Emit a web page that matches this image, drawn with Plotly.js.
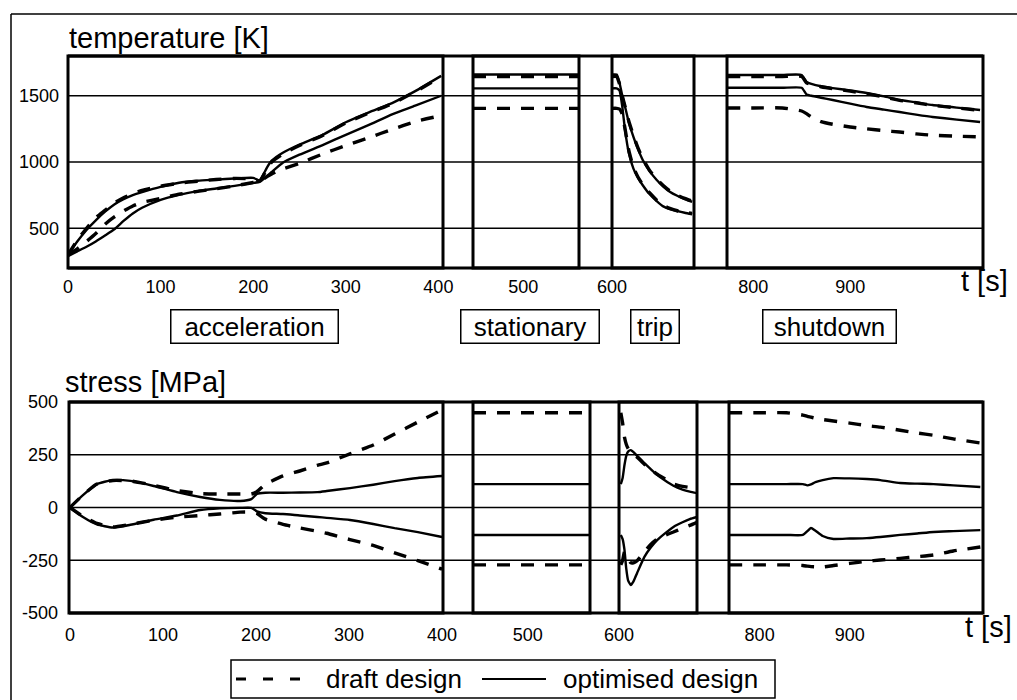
<!DOCTYPE html>
<html>
<head>
<meta charset="utf-8">
<script src="https://cdn.plot.ly/plotly-3.0.1.min.js"></script>
<style>html,body{margin:0;padding:0;background:#fff;}#chart{width:1017px;height:700px;}</style>
</head>
<body>
<div id="chart"></div>
<script>
// ---------------- DATA ----------------
// Temperature [K] - acceleration phase
const accTempT        = [0,10,20,30,40,50,60,70,80,100,120,140,160,180,200,207,215,220,232,250,275,300,325,350,375,403];
const accTempOptHot   = [300,400,487,560,625,680,720,750,772,812,843,858,867,876,880,862,960,1010,1070,1132,1205,1300,1375,1445,1535,1650];
const accTempOptCold  = [290,325,360,400,445,492,555,612,655,715,752,780,800,820,842,850,895,925,995,1055,1128,1205,1280,1360,1425,1500];
const accTempDraftHot = [300,410,500,580,635,690,730,760,785,818,840,855,868,876,872,858,950,1000,1060,1125,1200,1295,1370,1440,1530,1645];
const accTempDraftCold= [300,345,400,460,530,585,630,668,695,725,757,778,798,820,845,855,890,910,948,990,1060,1124,1184,1246,1305,1350];
// Temperature - stationary phase
const statTempT        = [446,560];
const statTempOptHot   = [1660,1660];
const statTempOptCold  = [1556,1556];
const statTempDraftHot = [1645,1645];
const statTempDraftCold= [1405,1405];
// Temperature - trip phase
const tripTempT        = [600,605,608,611,614,618,623,628,633,640,648,655,662,670,678,686];
const tripTempOptHot   = [1660,1660,1600,1500,1417,1300,1190,1095,1015,935,864,815,776,745,720,700];
const tripTempOptCold  = [1556,1556,1540,1420,1240,1070,950,880,825,760,705,665,645,630,617,606];
const tripTempDraftHot = [1645,1645,1590,1500,1420,1310,1200,1105,1025,940,870,822,782,750,725,705];
const tripTempDraftCold= [1405,1405,1400,1360,1250,1090,960,885,830,770,712,672,650,632,620,612];
// Temperature - shutdown phase
const shutTempT        = [773,800,830,850,855,860,870,882,900,917,935,951,968,985,1010,1034];
const shutTempOptHot   = [1657,1657,1657,1657,1604,1590,1572,1558,1540,1521,1495,1468,1450,1430,1410,1392];
const shutTempOptCold  = [1560,1560,1560,1560,1510,1500,1485,1468,1440,1415,1395,1377,1358,1340,1320,1302];
const shutTempDraftHot = [1645,1645,1645,1645,1598,1585,1568,1553,1535,1516,1490,1465,1447,1428,1408,1390];
const shutTempDraftCold= [1408,1408,1408,1385,1365,1340,1305,1285,1264,1250,1237,1226,1212,1202,1195,1189];

// Stress [MPa] - acceleration phase
const accStressT        = [0,14,29,46,65,90,115,140,161,183,195,201,210,229,247,266,276,301,326,349,374,400];
const accStressOptUp    = [0,59,111,130,126,102,73,50,36,31,40,64,70,70,71,73,78,92,108,125,140,149];
const accStressOptLow   = [0,-45,-80,-95,-82,-58,-38,-12,-4,-2,-2,-18,-27,-31,-38,-45,-49,-59,-78,-98,-117,-140];
const accStressDraftUp  = [0,59,111,128,126,105,80,66,64,64,64,75,110,150,173,200,211,254,296,348,405,462];
const accStressDraftLow = [0,-42,-75,-92,-80,-60,-46,-38,-31,-22,-22,-28,-55,-80,-97,-113,-122,-152,-180,-215,-252,-292];
// Stress - stationary phase
const statStressT        = [441,567];
const statStressOptUp    = [111,111];
const statStressOptLow   = [-130,-130];
const statStressDraftUp  = [449,449];
const statStressDraftLow = [-272,-272];
// Stress - trip phase
const tripStressT        = [602,604,606,608,610,613,616,620,628,635,642,650,660,670,678,686];
const tripStressOptUp    = [111,140,200,245,265,272,262,245,210,182,155,130,103,85,75,68];
const tripStressOptLow   = [-130,-150,-200,-290,-345,-367,-350,-310,-234,-190,-155,-125,-92,-70,-55,-45];
const tripStressDraftUp  = [449,400,334,300,280,262,252,238,205,180,158,138,112,100,95,92];
const tripStressDraftLow = [-272,-250,-212,-225,-245,-262,-262,-252,-210,-175,-150,-133,-116,-98,-85,-70];
// Stress - shutdown phase
const shutStressT        = [766,800,830,848,853,857,862,870,882,900,919,934,956,975,993,1015,1045];
const shutStressOptUp    = [111,111,111,111,105,110,120,130,139,138,135,130,116,113,111,105,97];
const shutStressOptLow   = [-130,-130,-130,-130,-112,-97,-110,-135,-149,-147,-145,-140,-130,-123,-116,-112,-107];
const shutStressDraftUp  = [449,449,449,438,432,428,423,417,410,400,388,381,366,353,342,325,306];
const shutStressDraftLow = [-272,-272,-272,-275,-278,-280,-281,-282,-275,-265,-255,-249,-241,-233,-225,-206,-187];

// Tick labels
const phaseTicks   = [[0,100,200,300,400],[500],[600],[800,900]];
const tempTicks    = [500,1000,1500];
const stressTicks  = [-500,-250,0,250,500];
const phaseNames   = ['acceleration','stationary','trip','shutdown'];
const seriesNames  = ['draft design','optimised design'];

// ---------------- LAYOUT HELPERS ----------------
const W = 1017, H = 700;
const X = v => v / W;
const Y = v => 1 - v / H;
const FONT = 'Liberation Sans, Arial, Helvetica, sans-serif';

const tempDomPx   = [[68,443],[473,579],[612,694],[727,983]];
const stressDomPx = [[69,443],[473,590],[619,697],[729,983]];
const tempRanges   = [[0,405],[446,560],[600,688],[773,1037]];
const stressRanges = [[-1,401],[441,567],[600,686],[766,1048]];

const tempPhases = [
  {t: accTempT,  draft:[accTempDraftHot,accTempDraftCold],   opt:[accTempOptHot,accTempOptCold]},
  {t: statTempT, draft:[statTempDraftHot,statTempDraftCold], opt:[statTempOptHot,statTempOptCold]},
  {t: tripTempT, draft:[tripTempDraftHot,tripTempDraftCold], opt:[tripTempOptHot,tripTempOptCold]},
  {t: shutTempT, draft:[shutTempDraftHot,shutTempDraftCold], opt:[shutTempOptHot,shutTempOptCold]}
];
const stressPhases = [
  {t: accStressT,  draft:[accStressDraftUp,accStressDraftLow],   opt:[accStressOptUp,accStressOptLow]},
  {t: statStressT, draft:[statStressDraftUp,statStressDraftLow], opt:[statStressOptUp,statStressOptLow]},
  {t: tripStressT, draft:[tripStressDraftUp,tripStressDraftLow], opt:[tripStressOptUp,tripStressOptLow]},
  {t: shutStressT, draft:[shutStressDraftUp,shutStressDraftLow], opt:[shutStressOptUp,shutStressOptLow]}
];

const draftLine = {color:'black', width:3.4, dash:'13px,11px', shape:'spline', smoothing:0.5};
const optLine   = {color:'black', width:2.4, shape:'spline', smoothing:0.5};

const traces = [];
function addPhases(phases, axOffset, yId){
  phases.forEach((p, k) => {
    const xId = (axOffset + k === 1) ? 'x' : 'x' + (axOffset + k);
    p.draft.forEach(arr => traces.push({x:p.t, y:arr, xaxis:xId, yaxis:yId, mode:'lines',
      name:seriesNames[0], line:draftLine, hoverinfo:'skip', showlegend:false}));
  });
  phases.forEach((p, k) => {
    const xId = (axOffset + k === 1) ? 'x' : 'x' + (axOffset + k);
    p.opt.forEach(arr => traces.push({x:p.t, y:arr, xaxis:xId, yaxis:yId, mode:'lines',
      name:seriesNames[1], line:optLine, hoverinfo:'skip', showlegend:false}));
  });
}
addPhases(tempPhases, 1, 'y');
addPhases(stressPhases, 5, 'y2');

const tickFont = {family:FONT, size:18, color:'black'};
const layout = {
  width:W, height:H, margin:{l:0,r:0,t:0,b:0},
  paper_bgcolor:'white', plot_bgcolor:'rgba(0,0,0,0)',
  showlegend:false, font:{family:FONT, color:'black'},
  shapes:[], annotations:[]
};
function xAxisDef(dom, rng, ticks, anchor, standoff){
  return {domain:[X(dom[0]),X(dom[1])], range:rng, anchor:anchor, tickmode:'array',
    tickvals:ticks, ticktext:ticks.map(String), showgrid:false, zeroline:false, showline:false,
    ticks:'', tickfont:tickFont, ticklabelstandoff:standoff, fixedrange:true};
}
for(let k=0;k<4;k++){
  layout[k===0?'xaxis':'xaxis'+(k+1)] = xAxisDef(tempDomPx[k], tempRanges[k], phaseTicks[k], 'y', 6);
  layout['xaxis'+(k+5)] = xAxisDef(stressDomPx[k], stressRanges[k], phaseTicks[k], 'y2', 9);
}
layout.yaxis = {domain:[Y(268),Y(56)], range:[200,1800], anchor:'x', tickmode:'array',
  tickvals:tempTicks, ticktext:tempTicks.map(String), showgrid:false, zeroline:false, showline:false,
  ticks:'', tickfont:tickFont, ticklabelstandoff:8, fixedrange:true};
layout.yaxis2 = {domain:[Y(613),Y(402)], range:[-500,500], anchor:'x5', tickmode:'array',
  tickvals:stressTicks, ticktext:stressTicks.map(String), showgrid:false, zeroline:false, showline:false,
  ticks:'', tickfont:tickFont, ticklabelstandoff:10, fixedrange:true};

// gridlines spanning full width (including gaps)
function gridLines(ticks, yref, domPx, rng){
  ticks.filter(v => v > rng[0] && v < rng[1]).forEach(v => layout.shapes.push({
    type:'line', xref:'paper', yref:yref, x0:X(domPx[0][0]), x1:X(domPx[3][1]), y0:v, y1:v,
    line:{color:'black', width:1.3}, layer:'below'}));
}
gridLines(tempTicks, 'y', tempDomPx, [200,1800]);
gridLines(stressTicks, 'y2', stressDomPx, [-500,500]);

// segment frames
function frames(axOffset, yId, domPx){
  for(let k=0;k<4;k++){
    const n = axOffset + k;
    const xr = (n===1?'x':'x'+n) + ' domain';
    layout.shapes.push({type:'rect', xref:xr, yref:yId+' domain', x0:0, x1:1, y0:0, y1:1,
      line:{color:'black', width:3}, fillcolor:'rgba(0,0,0,0)', layer:'above'});
  }
  [0,1].forEach(v => layout.shapes.push({type:'line', xref:'paper', yref:yId+' domain',
    x0:X(domPx[0][0]), x1:X(domPx[3][1]), y0:v, y1:v, line:{color:'black', width:3}, layer:'above'}));
}
frames(1, 'y', tempDomPx);
frames(5, 'y2', stressDomPx);

// outer page frame (left and top)
layout.shapes.push({type:'line', xref:'paper', yref:'paper', x0:X(11), x1:X(11), y0:Y(14), y1:Y(700), line:{color:'black', width:1.5}});
layout.shapes.push({type:'line', xref:'paper', yref:'paper', x0:X(11), x1:X(1017), y0:Y(14), y1:Y(14), line:{color:'black', width:1.5}});

// titles
function note(text, x, y, size, xanchor){
  layout.annotations.push({text:text, x:X(x), y:Y(y), xref:'paper', yref:'paper', showarrow:false,
    xanchor:xanchor||'left', yanchor:'middle', font:{family:FONT, size:size, color:'black'}});
}
note('temperature [K]', 67, 38, 29);
note('stress [MPa]', 63, 382, 29);
note('t [s]', 1010, 281, 29, 'right');
note('t [s]', 1014, 627, 29, 'right');

// phase boxes
const phaseBoxPx = [[170,338],[460,599],[630,679],[762,896]];
phaseNames.forEach((nm, k) => {
  const b = phaseBoxPx[k];
  layout.annotations.push({text:nm, x:X((b[0]+b[1])/2), y:Y(327), xref:'paper', yref:'paper',
    showarrow:false, xanchor:'center', yanchor:'middle', width:b[1]-b[0]-2, height:32,
    borderpad:0, bordercolor:'black', borderwidth:1.5, bgcolor:'white',
    font:{family:FONT, size:26, color:'black'}});
});

// legend (drawn)
layout.shapes.push({type:'rect', xref:'paper', yref:'paper', x0:X(231), x1:X(775), y0:Y(660), y1:Y(698),
  line:{color:'black', width:1.5}, fillcolor:'white', layer:'below'});
layout.shapes.push({type:'line', xref:'paper', yref:'paper', x0:X(236), x1:X(300), y0:Y(679), y1:Y(679),
  line:{color:'black', width:3, dash:'10px,17px'}});
layout.shapes.push({type:'line', xref:'paper', yref:'paper', x0:X(482), x1:X(546), y0:Y(679), y1:Y(679),
  line:{color:'black', width:2}});
note(seriesNames[0], 324, 679, 26);
note(seriesNames[1], 561, 679, 26);

Plotly.newPlot('chart', traces, layout, {displayModeBar:false, staticPlot:true});
</script>
</body>
</html>
